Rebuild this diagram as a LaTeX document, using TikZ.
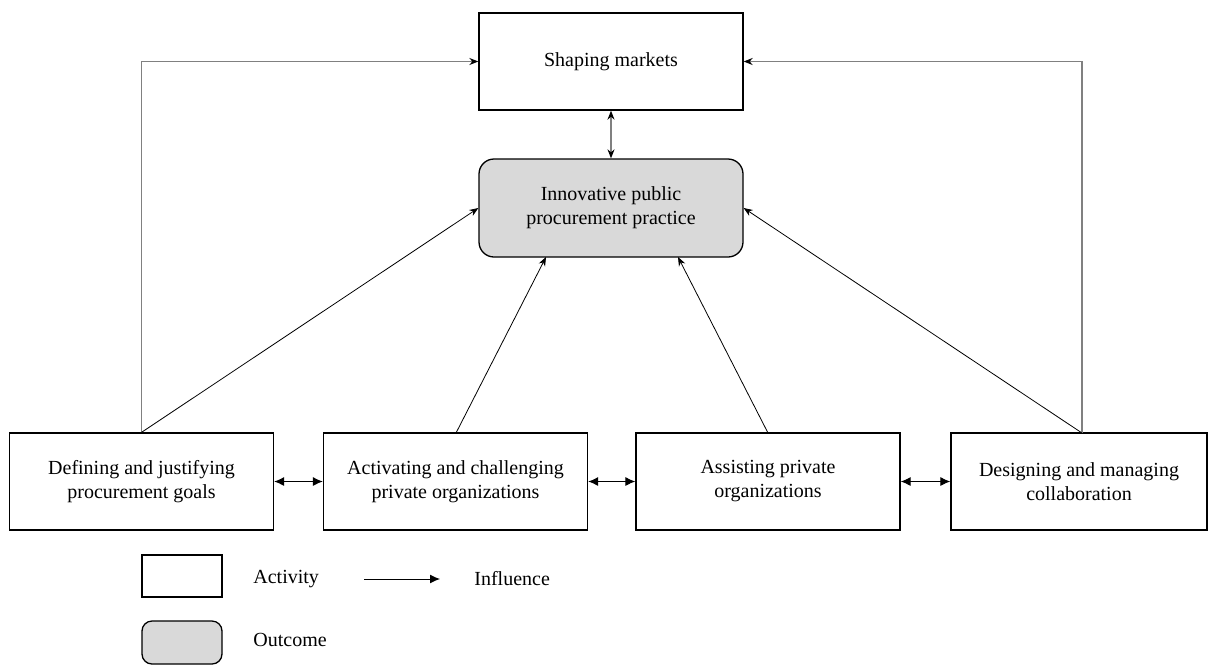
\documentclass[tikz,border=0pt]{standalone}
\usepackage{fontspec}
\setmainfont{Liberation Serif}
\usetikzlibrary{arrows.meta}
\begin{document}
\begin{tikzpicture}[x=0.5pt,y=-0.5pt,
 box/.style={draw, line width=0.65pt, minimum width=132pt, minimum height=48.5pt, align=center, inner sep=0pt, font=\fontsize{10}{12}\selectfont},
 outc/.style={box, fill=gray!30, minimum height=49pt, rounded corners=7.5pt},
 infl/.style={-{Stealth[length=4.5pt,width=3.5pt]}, line width=0.4pt},
 feed/.style={-{Stealth[length=4.5pt,width=3.5pt,color=black]}, line width=0.65pt, draw=black!50},
 feedd/.style={{Stealth[length=4.5pt,width=3.5pt,color=black]}-{Stealth[length=4.5pt,width=3.5pt,color=black]}, line width=0.65pt, draw=black!50},
 dbl/.style={{Latex[length=5pt,width=4.5pt]}-{Latex[length=5pt,width=4.5pt]}, line width=0.5pt},
 legtext/.style={anchor=west, inner sep=0pt, font=\fontsize{10}{12}\selectfont}
]
\useasboundingbox (0,0) rectangle (1208,665);
\node[box] (sm) at (611,61.5) {Shaping markets};
\node[outc] (ip) at (611,208) {Innovative public\\procurement practice};
\node[box] (b1) at (141.5,481.5) {Defining and justifying\\procurement goals};
\node[box] (b2) at (455.5,481.5) {Activating and challenging\\private organizations};
\node[box] (b3) at (768,481.5) {Assisting private\\organizations};
\node[box, minimum width=128pt] (b4) at (1079,481.5) {Designing and managing\\collaboration};

\coordinate (b4top) at (1082,433);
\draw[feed] (b1.north) -- (b1.north |- sm.west) -- (sm.west);
\draw[feed] (b4top) -- (b4top |- sm.east) -- (sm.east);
\draw[feedd] (sm.south) -- (ip.north);

\draw[infl] (b1.north) -- (ip.west);
\draw[infl] (b4top) -- (ip.east);
\draw[infl] (456,433) -- (546,257);
\draw[infl] (768,433) -- (678,257);

\draw[dbl] (b1.east) -- (b2.west);
\draw[dbl] (b2.east) -- (b3.west);
\draw[dbl] (b3.east) -- (b4.west);

% legend
\node[box, minimum width=40pt, minimum height=21pt] (la) at (182,576) {};
\node[outc, minimum width=40pt, minimum height=21.5pt, rounded corners=5pt] (lo) at (182,642.5) {};
\node[legtext] (ta) at (253,579) {Activity};
\node[legtext] (to) at (253,640) {Outcome};
\coordinate (ls) at (364,579);
\coordinate (le) at (440,579);
\draw[-{Latex[length=5pt,width=4.5pt]}, line width=0.5pt] (ls) -- (le);
\node[legtext] (ti) at (474,579) {Influence};
\end{tikzpicture}
\end{document}
